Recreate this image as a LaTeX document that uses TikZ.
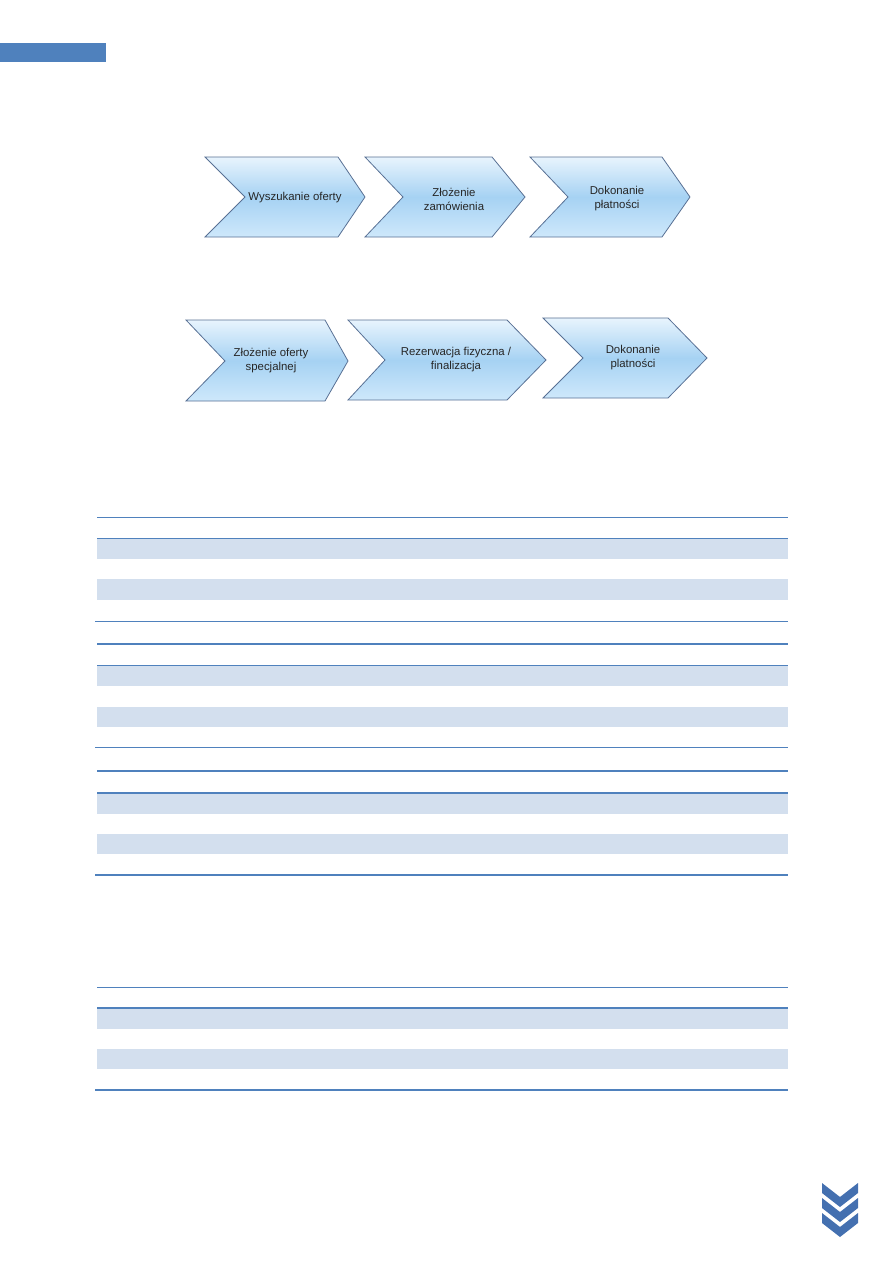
\documentclass[tikz,border=0pt]{standalone}
\usepackage{fontspec}
\setmainfont{Liberation Sans}
\usepackage{xcolor}
\usepackage{tikz}
\usetikzlibrary{positioning, calc}
\definecolor{wordblue}{RGB}{79,129,189}
\definecolor{rowshade}{RGB}{211,223,238}
\definecolor{chevedge}{RGB}{88,112,148}
\definecolor{chevtop}{RGB}{232,244,253}
\definecolor{chevmid}{RGB}{166,210,243}
\definecolor{chevbot}{RGB}{206,232,251}
\definecolor{iconblue}{RGB}{68,112,176}
\begin{document}
\begin{tikzpicture}[x=1pt, y=-1pt,
  chev/.style={draw=chevedge, line width=0.8pt, top color=chevtop, bottom color=chevbot, middle color=chevmid},
  lbl/.style={font=\fontsize{11.4}{14}\selectfont, text=black!85, align=center, inner sep=0pt},
  rule/.style={draw=wordblue, line width=1pt},
  heavy/.style={draw=wordblue, line width=2.5pt},
  band/.style={fill=rowshade}]
\useasboundingbox (0,0) rectangle (893,1263);
\fill[wordblue] (0,43) rectangle (106,62);
% first process
\draw[chev] (205,157) -- (338,157) -- (365,197) -- (338,237) -- (205,237) -- (245,197) -- cycle;
\draw[chev] (365,157) -- (492,157) -- (525,197) -- (492,237) -- (365,237) -- (403,197) -- cycle;
\draw[chev] (530,157) -- (662,157) -- (690,197) -- (662,237) -- (530,237) -- (568,197) -- cycle;
\node[lbl] (a1) at (295,198) {Wyszukanie oferty};
\node[lbl] (a2) at (454,199) {Złożenie\\zamówienia};
\node[lbl] (a3) at (617,199) {Dokonanie\\płatności};
% second process
\draw[chev] (186,320) -- (325,320) -- (348,361) -- (325,401) -- (186,401) -- (225,361) -- cycle;
\draw[chev] (348,320) -- (507,320) -- (546,360) -- (507,400) -- (348,400) -- (385,360) -- cycle;
\draw[chev] (543,318) -- (668,318) -- (707,358) -- (668,398) -- (543,398) -- (583,358) -- cycle;
\node[lbl] (b1) at (271,361) {Złożenie oferty\\specjalnej};
\node[lbl] (b2) at (456,360) {Rezerwacja fizyczna /\\finalizacja};
\node[lbl] (b3) at (633,358) {Dokonanie\\platności};
% tables
\foreach \t/\b in {538/559, 579/600, 665/686, 707/727, 793/814, 834/854, 1008/1029, 1049/1069}
  \fill[band] (97,\t) rectangle (788,\b);
\foreach \y in {517, 538, 665, 987}
  \draw[rule] (97,\y) -- (788,\y);
\foreach \y in {621, 747}
  \draw[rule] (95,\y) -- (788,\y);
\foreach \y in {644, 771, 793, 1008}
  \draw[heavy] (97,\y) -- (788,\y);
\foreach \y in {875, 1090}
  \draw[heavy] (95,\y) -- (788,\y);
% corner mark
\foreach \d in {0,15,30}
  \fill[iconblue] (822,1183+\d) -- (840,1197+\d) -- (858,1183+\d) -- (858,1193+\d) -- (840,1207+\d) -- (822,1193+\d) -- cycle;
\end{tikzpicture}
\end{document}
